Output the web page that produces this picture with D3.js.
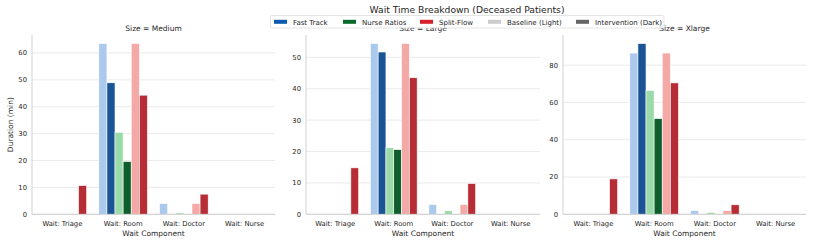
<!DOCTYPE html>
<html>
<head>
<meta charset="utf-8">
<script src="https://cdn.jsdelivr.net/npm/d3@7"></script>
<style>
  body { margin: 0; background: #fff; }
  text { font-family: "DejaVu Sans", sans-serif; fill: #262626; }
</style>
</head>
<body>
<svg id="chart" width="813" height="245"></svg>
<script>
// categories and series
var components = ["Wait: Triage", "Wait: Room", "Wait: Doctor", "Wait: Nurse"];
var sizes = ["Medium", "Large", "Xlarge"];
var hues = ["FT-base", "FT-int", "NR-base", "NR-int", "SF-base", "SF-int"];

// values per size, one row per hue, columns = components
var mediumValues = [
  [0, 63.5, 4.0, 0],
  [0, 48.9, 0, 0],
  [0, 30.5, 0.5, 0],
  [0, 19.6, 0, 0],
  [0, 63.5, 4.0, 0],
  [10.7, 44.3, 7.5, 0]
];
var largeValues = [
  [0, 54.4, 3.1, 0],
  [0, 51.7, 0, 0],
  [0, 21.2, 1.1, 0],
  [0, 20.6, 0, 0],
  [0, 54.4, 3.1, 0],
  [14.8, 43.5, 9.8, 0]
];
var xlargeValues = [
  [0, 86.5, 2.0, 0],
  [0, 91.6, 0, 0],
  [0, 66.5, 1.0, 0],
  [0, 51.3, 0, 0],
  [0, 86.5, 2.0, 0],
  [19.0, 70.5, 5.1, 0]
];
var yTicks = [
  [0, 10, 20, 30, 40, 50, 60],
  [0, 10, 20, 30, 40, 50],
  [0, 20, 40, 60, 80]
];
var legendLabels = ["Fast Track", "Nurse Ratios", "Split-Flow", "Baseline (Light)", "Intervention (Dark)"];

var hueColors = ["#abc9ec", "#1b5494", "#9ad9a8", "#0e5e2c", "#f4a9a6", "#b72d35"];
var legendColors = ["#0a5bb0", "#066b2a", "#d8202a", "#cccccc", "#666666"];

var allValues = [mediumValues, largeValues, xlargeValues];

var svg = d3.select("#chart");
var panels = [
  {left: 32, right: 275},
  {left: 306, right: 540},
  {left: 563, right: 806}
];
var plotTop = 35, plotBottom = 214.3;

panels.forEach(function(p, pi) {
  var vals = allValues[pi];
  var maxV = d3.max(vals, function(r) { return d3.max(r); });
  var y = d3.scaleLinear().domain([0, maxV * 1.05]).range([plotBottom, plotTop]);
  var x = d3.scaleBand().domain(components).range([p.left, p.right]).padding(0);
  var xh = d3.scaleBand().domain(hues)
    .range([x.bandwidth() * 0.1, x.bandwidth() * 0.9]).padding(0);

  var g = svg.append("g");

  // grid
  g.selectAll(".grid").data(yTicks[pi]).enter().append("line")
    .attr("x1", p.left).attr("x2", p.right)
    .attr("y1", function(d) { return y(d); }).attr("y2", function(d) { return y(d); })
    .attr("stroke", "#e5e5e5").attr("stroke-width", 0.8);

  // bars
  var data = [];
  hues.forEach(function(h, hi) {
    components.forEach(function(c, ci) {
      data.push({hue: h, hi: hi, comp: c, v: vals[hi][ci]});
    });
  });
  g.selectAll(".bar").data(data).enter().append("rect")
    .attr("x", function(d) { return x(d.comp) + xh(d.hue); })
    .attr("width", xh.bandwidth())
    .attr("y", function(d) { return y(d.v); })
    .attr("height", function(d) { return plotBottom - y(d.v); })
    .attr("fill", function(d) { return hueColors[d.hi]; })
    .attr("stroke", "#fff").attr("stroke-width", 0.6);

  // spines
  g.append("line").attr("x1", p.left).attr("x2", p.left).attr("y1", plotTop).attr("y2", plotBottom)
    .attr("stroke", "#cccccc").attr("stroke-width", 0.9);
  g.append("line").attr("x1", p.left).attr("x2", p.right).attr("y1", plotBottom).attr("y2", plotBottom)
    .attr("stroke", "#cccccc").attr("stroke-width", 0.9);

  // y tick labels
  g.selectAll(".yt").data(yTicks[pi]).enter().append("text")
    .attr("x", p.left - 5).attr("y", function(d) { return y(d); })
    .attr("dy", "0.35em").attr("text-anchor", "end")
    .style("font-size", "6.8px").text(function(d) { return d; });

  // x tick labels
  g.selectAll(".xt").data(components).enter().append("text")
    .attr("x", function(d) { return x(d) + x.bandwidth() / 2; })
    .attr("y", 226).attr("text-anchor", "middle")
    .style("font-size", "6.8px").text(function(d) { return d; });

  g.append("text").attr("x", (p.left + p.right) / 2).attr("y", 236)
    .attr("text-anchor", "middle").style("font-size", "7.5px").text("Wait Component");

  g.append("text").attr("x", (p.left + p.right) / 2).attr("y", 31)
    .attr("text-anchor", "middle").style("font-size", "7.5px").text("Size = " + sizes[pi]);
});

svg.append("text").attr("transform", "translate(13," + ((plotTop + plotBottom) / 2) + ") rotate(-90)")
  .attr("text-anchor", "middle").style("font-size", "7.5px").text("Duration (min)");

svg.append("text").attr("x", 467).attr("y", 12.5).attr("text-anchor", "middle")
  .style("font-size", "9.2px").text("Wait Time Breakdown (Deceased Patients)");

// legend
var lg = svg.append("g");
lg.append("rect").attr("x", 270.5).attr("y", 15.5).attr("width", 393.5).attr("height", 12.5)
  .attr("fill", "#fff").attr("fill-opacity", 0.85).attr("stroke", "#d8d8d8").attr("stroke-width", 0.7).attr("rx", 1.5);
var lx = [274, 343, 420, 488, 576];
legendLabels.forEach(function(l, i) {
  lg.append("rect").attr("x", lx[i]).attr("y", 19.8).attr("width", 13).attr("height", 4)
    .attr("fill", legendColors[i]);
  lg.append("text").attr("x", lx[i] + 19).attr("y", 24.5).style("font-size", "7px").text(l);
});
</script>
</body>
</html>
